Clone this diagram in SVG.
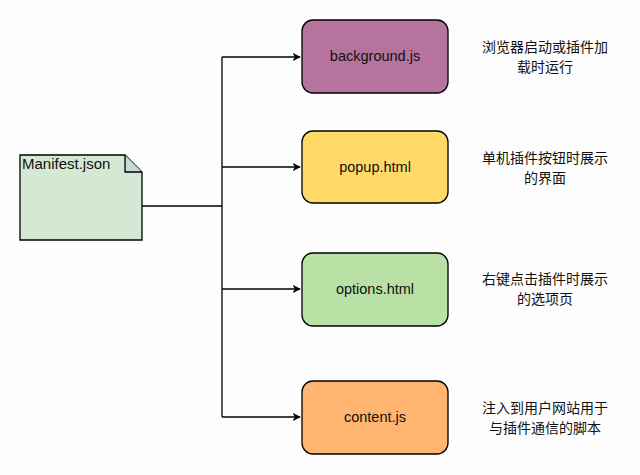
<svg xmlns="http://www.w3.org/2000/svg" width="640" height="475" viewBox="0 0 640 475">
<style>
.box{stroke:#000;stroke-width:1.3}
.lbl{font-family:"Liberation Sans",Arial,sans-serif;font-size:14.5px;fill:#111;text-anchor:middle}
.desc{font-family:"Noto Sans CJK SC","Liberation Sans",sans-serif;font-size:14px;fill:#111;text-anchor:middle}
.conn{stroke:#000;stroke-width:1.3;fill:none}
</style>
<defs>
<marker id="arr" viewBox="0 0 10 10" refX="9" refY="5" markerWidth="8" markerHeight="8" markerUnits="userSpaceOnUse" orient="auto">
<path d="M0,0 L10,5 L0,10 L2.5,5 Z" fill="#000"/>
</marker>
</defs>
<rect width="640" height="475" fill="#fdfdfd"/>
<g id="connectors">
<path class="conn" d="M142,206 H222"/>
<path class="conn" d="M222,57 V417"/>
<path class="conn" d="M222,57 H300" marker-end="url(#arr)"/>
<path class="conn" d="M222,167 H300" marker-end="url(#arr)"/>
<path class="conn" d="M222,289 H300" marker-end="url(#arr)"/>
<path class="conn" d="M222,417 H300" marker-end="url(#arr)"/>
</g>
<g id="manifest">
<path class="box" d="M20,155 H125 L142,172 V240 H20 Z" fill="#d5e8d4"/>
<path class="box" d="M125,155 V172 H142" fill="#c4dcd6"/>
<text x="22" y="169" font-family="Liberation Sans,Arial,sans-serif" font-size="15" fill="#111">Manifest.json</text>
</g>
<g id="background">
<rect class="box" x="302" y="20" width="146" height="73" rx="11" fill="#b5739d"/>
<text class="lbl" x="375" y="61">background.js</text>
</g>
<g id="popup">
<rect class="box" x="302" y="131" width="146" height="72" rx="11" fill="#ffd966"/>
<text class="lbl" x="375" y="172">popup.html</text>
</g>
<g id="options">
<rect class="box" x="302" y="253" width="146" height="73" rx="11" fill="#b9e0a5"/>
<text class="lbl" x="375" y="294">options.html</text>
</g>
<g id="content">
<rect class="box" x="302" y="381" width="146" height="73" rx="11" fill="#ffb570"/>
<text class="lbl" x="375" y="422">content.js</text>
</g>
<g id="desc-background">
<text class="desc" x="545" y="52">浏览器启动或插件加</text>
<text class="desc" x="545" y="72">载时运行</text>
</g>
<g id="desc-popup">
<text class="desc" x="545" y="163">单机插件按钮时展示</text>
<text class="desc" x="545" y="183">的界面</text>
</g>
<g id="desc-options">
<text class="desc" x="545" y="284">右键点击插件时展示</text>
<text class="desc" x="545" y="304">的选项页</text>
</g>
<g id="desc-content">
<text class="desc" x="545" y="413">注入到用户网站用于</text>
<text class="desc" x="545" y="433">与插件通信的脚本</text>
</g>
</svg>
